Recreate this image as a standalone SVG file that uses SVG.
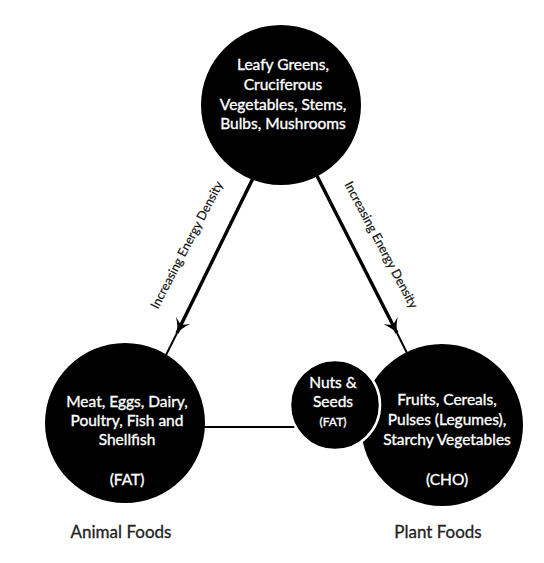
<svg xmlns="http://www.w3.org/2000/svg" width="544" height="563" viewBox="0 0 544 563">
<style>
.node{fill:#000}
.lbl{font-family:Lato,"Open Sans","Liberation Sans",sans-serif;fill:#fff;stroke:#fff;stroke-width:0.35;text-anchor:middle;font-size:15.5px}
.small{font-size:12px}
.side{font-family:Lato,"Open Sans","Liberation Sans",sans-serif;fill:#111;stroke:#111;stroke-width:0.2;text-anchor:middle;font-size:12.5px}
.foot{font-family:Lato,"Open Sans","Liberation Sans",sans-serif;fill:#222;stroke:#222;stroke-width:0.3;text-anchor:middle;font-size:17px}
.thick{stroke:#000;stroke-width:3.4;fill:none}
.thin{stroke:#000;stroke-width:2;fill:none}
</style>
<defs>
<marker id="barb" viewBox="-16 -9 18 18" refX="0" refY="0" markerWidth="18" markerHeight="18" markerUnits="userSpaceOnUse" orient="auto">
<path d="M1,0 Q-7,-2 -14,-8 L-9,0 L-14,8 Q-7,2 1,0 Z" fill="#000"/>
</marker>
</defs>
<rect width="544" height="563" fill="#fff"/>
<g id="connectors">
<line class="thick" x1="257" y1="170" x2="177" y2="333" marker-end="url(#barb)"/>
<line class="thin" x1="177" y1="333" x2="166" y2="355"/>
<line class="thick" x1="313" y1="168" x2="397" y2="333" marker-end="url(#barb)"/>
<line class="thin" x1="397" y1="333" x2="408" y2="355"/>
<line class="thin" x1="204" y1="427" x2="300" y2="427"/>
<text class="side" transform="translate(187,245) rotate(-62.5)" dy="4">Increasing Energy Density</text>
<text class="side" transform="translate(381,245) rotate(62)" dy="4">Increasing Energy Density</text>
</g>
<g id="top">
<circle class="node" cx="281" cy="105" r="80"/>
<text class="lbl" x="283" y="70">Leafy Greens,</text>
<text class="lbl" x="283" y="90">Cruciferous</text>
<text class="lbl" x="283" y="110">Vegetables, Stems,</text>
<text class="lbl" x="283" y="129">Bulbs, Mushrooms</text>
</g>
<g id="animal">
<circle class="node" cx="125" cy="423" r="80"/>
<text class="lbl" x="127" y="407">Meat, Eggs, Dairy,</text>
<text class="lbl" x="127" y="426">Poultry, Fish and</text>
<text class="lbl" x="127" y="445">Shellfish</text>
<text class="lbl" x="127" y="485">(FAT)</text>
</g>
<g id="plant">
<circle class="node" cx="442" cy="425" r="81"/>
<text class="lbl" x="447" y="405">Fruits, Cereals,</text>
<text class="lbl" x="447" y="425">Pulses (Legumes),</text>
<text class="lbl" x="447" y="445">Starchy Vegetables</text>
<text class="lbl" x="447" y="485">(CHO)</text>
</g>
<g id="nuts">
<circle class="node" cx="335" cy="405" r="45" stroke="#fff" stroke-width="2.5"/>
<text class="lbl" x="333" y="388">Nuts &amp;</text>
<text class="lbl" x="333" y="407">Seeds</text>
<text class="lbl small" x="333" y="426">(FAT)</text>
</g>
<g id="labels">
<text class="foot" x="121" y="538">Animal Foods</text>
<text class="foot" x="438" y="538">Plant Foods</text>
</g>
</svg>
